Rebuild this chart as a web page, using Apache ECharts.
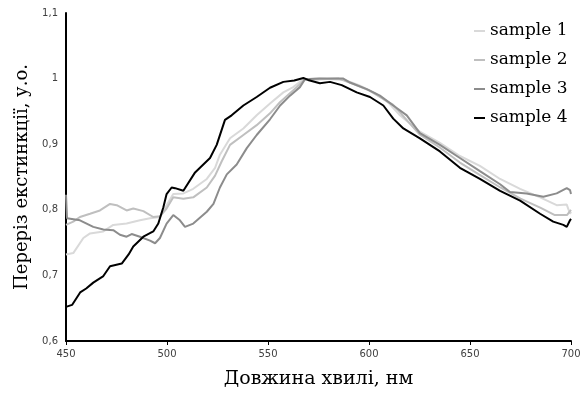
<!DOCTYPE html>
<html>
<head>
<meta charset="utf-8">
<script src="https://cdn.jsdelivr.net/npm/echarts@6/dist/echarts.min.js"></script>
<style>
  html, body { margin: 0; padding: 0; background: #fff; }
  #chart { width: 587px; height: 394px; }
</style>
</head>
<body>
<div id="chart"></div>
<script>
// wavelength (nm) / extinction readings per sample
var names = ['sample 1', 'sample 2', 'sample 3', 'sample 4'];
var colors = ['#d9d9d9', '#bfbfbf', '#8c8c8c', '#000000'];

var s1X = [450, 453.6, 458.6, 461.9, 468.5, 473.4, 480, 486.6, 491.6, 496.5, 499.8, 503.1, 508.1, 513, 519.7, 523.8, 526.2, 531.2, 537.8, 544.4, 551, 557.6, 562.5, 567.5, 575, 588, 595, 603, 610, 615, 625.2, 635.1, 645, 654.9, 664.9, 674.8, 684.7, 692.9, 697.9, 699.5, 700];
var s1Y = [0.732, 0.734, 0.757, 0.764, 0.767, 0.777, 0.779, 0.784, 0.787, 0.789, 0.807, 0.824, 0.825, 0.832, 0.847, 0.864, 0.884, 0.909, 0.924, 0.944, 0.962, 0.979, 0.987, 0.999, 1.000, 0.998, 0.990, 0.978, 0.962, 0.945, 0.919, 0.902, 0.882, 0.867, 0.847, 0.832, 0.819, 0.807, 0.808, 0.794, 0.797];

var s2X = [450, 453.6, 456.9, 461.9, 466.8, 471.8, 475.1, 480, 483.3, 488.3, 493.2, 496.5, 499.8, 503.1, 508.1, 513, 519.7, 523.8, 527.1, 531.2, 537.8, 544.4, 551, 555.9, 564.2, 568, 585, 592, 600, 612, 625, 635, 645, 655, 665, 675, 685, 692, 698, 700];
var s2Y = [0.777, 0.782, 0.789, 0.794, 0.799, 0.809, 0.807, 0.799, 0.802, 0.798, 0.789, 0.790, 0.802, 0.819, 0.817, 0.819, 0.834, 0.852, 0.874, 0.899, 0.914, 0.929, 0.947, 0.964, 0.987, 0.998, 1.000, 0.992, 0.982, 0.960, 0.915, 0.895, 0.872, 0.853, 0.834, 0.817, 0.803, 0.792, 0.792, 0.800];

var s3X = [450, 450.5, 456.9, 463.5, 468.5, 473.4, 476.7, 480, 482.5, 486.6, 491.6, 494.1, 496.5, 499.8, 503.1, 506.4, 508.9, 513, 519.7, 523, 526.2, 529.6, 534.5, 539.5, 544.4, 551, 556, 560.9, 565.8, 568.3, 575.7, 587.3, 590.6, 598.9, 605.4, 612, 618.7, 625.2, 635.1, 645, 654.9, 664.9, 669.8, 678, 686.3, 692.9, 697.9, 699.5, 700];
var s3Y = [0.823, 0.787, 0.784, 0.774, 0.770, 0.769, 0.762, 0.759, 0.763, 0.759, 0.753, 0.749, 0.757, 0.779, 0.792, 0.784, 0.774, 0.779, 0.797, 0.809, 0.834, 0.854, 0.869, 0.894, 0.914, 0.938, 0.959, 0.974, 0.987, 0.999, 1.000, 1.000, 0.994, 0.984, 0.974, 0.959, 0.944, 0.917, 0.899, 0.879, 0.859, 0.839, 0.827, 0.825, 0.820, 0.825, 0.833, 0.830, 0.824];

var s4X = [450, 453, 457, 460, 463.5, 468.5, 471.8, 477.6, 481, 483.3, 488.3, 493.2, 495.7, 498.2, 499.8, 502.3, 504, 508.1, 513.9, 521.3, 524.6, 528.7, 532, 537.8, 544.4, 551, 557.6, 563, 567.5, 569.8, 575.7, 580.7, 586.5, 593.9, 600.5, 607.1, 612, 617, 625.2, 635.1, 645, 654.9, 664.9, 674.8, 684.7, 691.2, 696.2, 697.9, 699.5, 700];
var s4Y = [0.652, 0.655, 0.674, 0.680, 0.689, 0.699, 0.714, 0.718, 0.732, 0.744, 0.759, 0.767, 0.779, 0.804, 0.824, 0.834, 0.833, 0.829, 0.857, 0.879, 0.899, 0.937, 0.944, 0.959, 0.972, 0.986, 0.995, 0.997, 1.001, 0.998, 0.993, 0.995, 0.990, 0.979, 0.972, 0.959, 0.939, 0.924, 0.909, 0.889, 0.864, 0.847, 0.829, 0.814, 0.794, 0.782, 0.777, 0.774, 0.784, 0.786];

var xTicks = [450, 500, 550, 600, 650, 700];
var yTicks = [0.6, 0.7, 0.8, 0.9, 1, 1.1];

function pairs(xs, ys) {
  return xs.map(function (x, i) { return [x, ys[i]]; });
}
var allX = [s1X, s2X, s3X, s4X];
var allY = [s1Y, s2Y, s3Y, s4Y];

var chart = echarts.init(document.getElementById('chart'));
chart.setOption({
  animation: false,
  backgroundColor: '#fff',
  grid: { left: 66, right: 16, top: 13, bottom: 48 },
  legend: {
    orient: 'vertical',
    left: 469,
    top: 15,
    icon: 'rect',
    itemWidth: 11,
    itemHeight: 2,
    itemGap: 7,
    data: names,
    textStyle: {
      fontFamily: 'DejaVu Serif',
      fontSize: 17,
      color: '#000',
      lineHeight: 22
    }
  },
  xAxis: {
    type: 'value',
    min: xTicks[0],
    max: xTicks[xTicks.length - 1],
    interval: 50,
    name: 'Довжина хвилі, нм',
    nameLocation: 'center',
    nameGap: 29,
    nameTextStyle: { fontFamily: 'DejaVu Serif', fontSize: 19, color: '#000' },
    axisLine: { lineStyle: { color: '#000', width: 2 } },
    axisTick: { show: true, length: 4, lineStyle: { color: '#000' } },
    axisLabel: { fontFamily: 'DejaVu Sans', fontSize: 10, color: '#404040', margin: 8 },
    splitLine: { show: false }
  },
  yAxis: {
    type: 'value',
    min: yTicks[0],
    max: yTicks[yTicks.length - 1],
    interval: 0.1,
    name: 'Переріз екстинкції, у.о.',
    nameLocation: 'center',
    nameGap: 32,
    nameTextStyle: { fontFamily: 'DejaVu Serif', fontSize: 18, color: '#000' },
    axisLine: { show: true, lineStyle: { color: '#000', width: 2 } },
    axisTick: { show: false },
    axisLabel: {
      fontFamily: 'DejaVu Sans', fontSize: 10, color: '#404040', margin: 8,
      formatter: function (v) { return String(+v.toFixed(1)).replace('.', ','); }
    },
    splitLine: { show: false }
  },
  series: names.map(function (n, i) {
    return {
      name: n,
      type: 'line',
      showSymbol: false,
      color: colors[i],
      lineStyle: { width: 2, color: colors[i] },
      data: pairs(allX[i], allY[i])
    };
  })
});
</script>
</body>
</html>
